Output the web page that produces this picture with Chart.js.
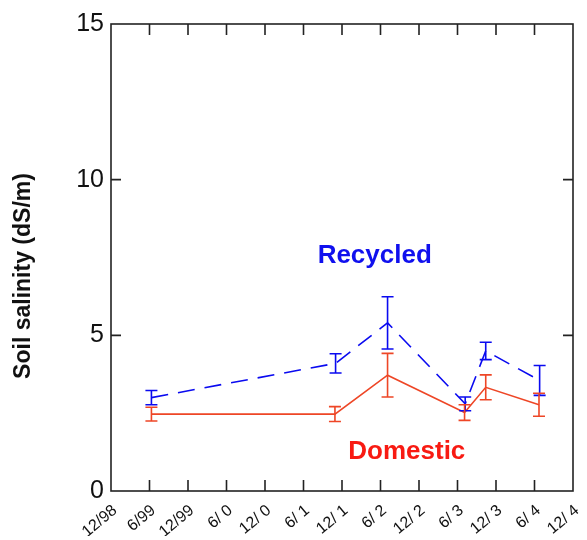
<!DOCTYPE html>
<html>
<head>
<meta charset="utf-8">
<script src="https://cdn.jsdelivr.net/npm/chart.js@4"></script>
<style>
  html, body { margin: 0; padding: 0; background: #fff; }
  #wrap { width: 587px; height: 540px; }
</style>
</head>
<body>
<div id="wrap"><canvas id="myChart" width="587" height="540"></canvas></div>
<script>
// tick labels along the time axis (every 6 months, from 12/98)
var xLabels = ["12/98", "6/99", "12/99", "6/ 0", "12/ 0", "6/ 1", "12/ 1",
               "6/ 2", "12/ 2", "6/ 3", "12/ 3", "6/ 4", "12/ 4"];
var yTicks = [0, 5, 10, 15];

// months since 12/98
var recX = [6.3, 35.0, 43.1, 55.2, 58.4, 66.8];
var recY = [3.0, 4.1, 5.4, 2.8, 4.5, 3.55];
var recErr = [0.23, 0.31, 0.84, 0.22, 0.28, 0.48];

var domX = [6.3, 34.9, 43.1, 55.1, 58.4, 66.7];
var domY = [2.47, 2.47, 3.72, 2.52, 3.33, 2.77];
var domErr = [0.22, 0.24, 0.70, 0.25, 0.40, 0.37];

var blue = "#0a0af0";
var red = "#ee4626";
var font = "'Liberation Sans', Arial, sans-serif";

function pts(xs, ys) {
  return xs.map(function (x, i) { return { x: x, y: ys[i] }; });
}

// error bars, frame with inward ticks, axis title and the series names
var extras = {
  id: "extras",
  afterDatasetsDraw: function (chart) {
    var c = chart.ctx, xs = chart.scales.x, ys = chart.scales.y;
    var sets = [[recX, recY, recErr, blue], [domX, domY, domErr, red]];
    c.save();
    c.lineWidth = 1.6;
    sets.forEach(function (s) {
      c.strokeStyle = s[3];
      s[0].forEach(function (xv, i) {
        var px = xs.getPixelForValue(xv);
        var top = ys.getPixelForValue(s[1][i] + s[2][i]);
        var bot = ys.getPixelForValue(s[1][i] - s[2][i]);
        c.beginPath();
        c.moveTo(px, top); c.lineTo(px, bot);
        c.moveTo(px - 6, top); c.lineTo(px + 6, top);
        c.moveTo(px - 6, bot); c.lineTo(px + 6, bot);
        c.stroke();
      });
    });
    c.restore();
  },
  afterDraw: function (chart) {
    var c = chart.ctx, a = chart.chartArea, xs = chart.scales.x, ys = chart.scales.y;
    c.save();
    c.strokeStyle = "#222";
    c.lineWidth = 1.6;
    c.strokeRect(a.left, a.top, a.right - a.left, a.bottom - a.top);
    c.beginPath();
    for (var i = 1; i < xLabels.length - 1; i++) {
      var px = xs.getPixelForValue(i * 6);
      c.moveTo(px, a.bottom); c.lineTo(px, a.bottom - 11);
      c.moveTo(px, a.top); c.lineTo(px, a.top + 11);
    }
    yTicks.slice(1, -1).forEach(function (v) {
      var py = ys.getPixelForValue(v);
      c.moveTo(a.left, py); c.lineTo(a.left + 10, py);
      c.moveTo(a.right, py); c.lineTo(a.right - 10, py);
    });
    c.stroke();

    // y axis title, a little below the middle as in the original
    c.save();
    c.translate(24, 276);
    c.rotate(-Math.PI / 2);
    c.font = "bold 23px " + font;
    c.fillStyle = "#111";
    c.textAlign = "center";
    c.textBaseline = "middle";
    c.fillText("Soil salinity (dS/m)", 0, 0);
    c.restore();

    c.font = "bold 26px " + font;
    c.textAlign = "center";
    c.textBaseline = "middle";
    c.fillStyle = "#1010ee";
    c.fillText("Recycled", xs.getPixelForValue(41.1), ys.getPixelForValue(7.55));
    c.fillStyle = "#f81a12";
    c.fillText("Domestic", xs.getPixelForValue(46.1), ys.getPixelForValue(1.25));
    c.restore();
  }
};

var ctx = document.getElementById("myChart").getContext("2d");
var chart = new Chart(ctx, {
  type: "line",
  data: {
    datasets: [
      {
        label: "Recycled",
        data: pts(recX, recY),
        borderColor: blue,
        borderWidth: 1.6,
        borderDash: [17, 10],
        pointRadius: 0,
        tension: 0,
        fill: false
      },
      {
        label: "Domestic",
        data: pts(domX, domY),
        borderColor: red,
        borderWidth: 1.6,
        pointRadius: 0,
        tension: 0,
        fill: false
      }
    ]
  },
  plugins: [extras],
  options: {
    responsive: false,
    animation: false,
    layout: { padding: { top: 24, right: 14, bottom: 4, left: 0 } },
    plugins: {
      legend: { display: false },
      tooltip: { enabled: false }
    },
    scales: {
      x: {
        type: "linear",
        min: 0,
        max: 72,
        grid: { display: false, drawTicks: false },
        border: { display: false },
        afterFit: function (s) {
          s.height = 45;
          s.paddingLeft = 0;
          s.paddingRight = 0;
        },
        afterBuildTicks: function (s) {
          s.ticks = xLabels.map(function (l, i) { return { value: i * 6 }; });
        },
        ticks: {
          autoSkip: false,
          minRotation: 40,
          maxRotation: 40,
          padding: 10,
          labelOffset: 4,
          color: "#111",
          font: { family: font, size: 16 },
          callback: function (v) { return xLabels[Math.round(v / 6)]; }
        }
      },
      y: {
        min: 0,
        max: 15,
        grid: { display: false, drawTicks: false },
        border: { display: false },
        afterFit: function (s) {
          s.width = 111;
          s.paddingTop = 0;
          s.paddingBottom = 0;
        },
        afterBuildTicks: function (s) {
          s.ticks = yTicks.map(function (v) { return { value: v }; });
        },
        ticks: {
          padding: 7,
          color: "#111",
          font: { family: font, size: 25 }
        }
      }
    }
  }
});
</script>
</body>
</html>
